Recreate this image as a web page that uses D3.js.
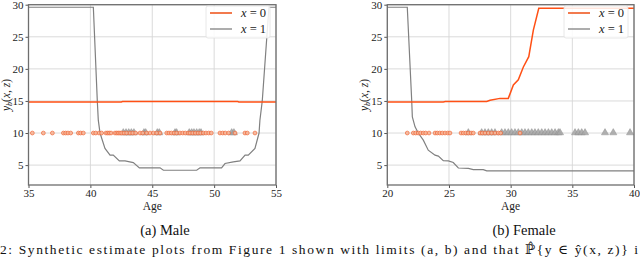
<!DOCTYPE html>
<html><head><meta charset="utf-8">
<script src="https://cdn.jsdelivr.net/npm/d3@7"></script>
<style>
body{margin:0;background:#fff}svg{display:block}
svg text{font-family:"Liberation Serif","DejaVu Serif",serif}
</style>
</head><body>
<svg id="c" width="640" height="257"></svg>
<script>
// ---------- data ----------
const maleLine0 = [[35,14.85],[42.5,14.85],[42.6,14.92],[51.9,14.92],[52.0,14.85],[55,14.85]];
const maleLine1 = [[35,29.6],[40.24,29.6],[40.56,15],[40.64,12],[40.78,10],[41.18,7.6],[41.59,6.55],[41.85,6.55],[42.34,5.66],[42.8,5.66],[43.47,5.4],[43.96,4.57],[45.63,4.57],[45.9,4.2],[48.59,4.2],[48.86,4.57],[50.6,4.57],[50.88,5.25],[51.55,5.5],[52.09,5.66],[52.5,6.55],[52.76,6.55],[53.3,7.6],[53.63,10],[53.7,12],[53.89,15],[54.43,29.6],[55,29.6]];
const maleAges0 = [35.31,36.2,36.93,37.82,38.0,38.19,38.41,39.03,39.21,39.43,40.24,40.43,40.7,40.91,41.26,41.4,41.53,41.67,41.99,42.13,42.26,42.39,42.53,42.72,42.93,43.2,43.42,43.66,44.01,44.23,44.55,44.82,45.09,45.36,45.63,46.17,46.35,46.54,46.76,46.97,47.24,47.46,47.67,47.89,48.05,48.27,48.48,48.7,48.91,49.13,49.34,49.56,49.77,50.47,50.69,50.9,51.17,51.69,52.49,52.68,53.3];
const maleAges1 = [42.66,42.88,43.1,43.31,43.52,44.33,44.47,45.41,45.57,46.84,46.97,47.99,48.19,48.37,48.59,48.8,48.94,51.42,51.6];

const femaleLine0 = [[20,14.85],[24.54,14.85],[24.7,14.92],[28.06,14.92],[28.33,15.1],[29.14,15.4],[29.81,15.4],[30.22,17.5],[30.62,18.3],[31.03,20.3],[31.47,21.9],[31.84,26.05],[32.28,29.44],[40,29.44]];
const femaleLine1 = [[20,29.6],[21.62,29.6],[21.98,15],[22.03,12.53],[22.25,10.97],[22.51,10],[22.92,8.89],[23.32,7.33],[23.87,6.55],[24.14,6.4],[24.54,5.7],[24.95,5.66],[25.35,5.4],[25.76,4.55],[26.57,4.5],[26.97,4.3],[27.78,4.3],[28.06,4.1],[40,4.1]];
const femaleAges0 = [21.62,22.11,22.3,22.51,22.7,22.92,23.11,23.38,23.87,24.05,24.25,24.46,24.68,24.9,25.08,25.98,26.16,26.36,26.57,26.79,26.97,27.52,27.7,27.92,28.19,28.46,28.73,29.0,29.19,30.76];
const femaleAges1 = [26.57,27.65,27.92,28.19,28.46,28.73,29.27,29.54,29.81,30.08,30.35,30.62,30.9,31.16,31.43,31.71,31.97,32.24,32.52,32.79,33.06,33.33,33.6,33.87,34.0,35.22,35.49,35.76,36.03,37.65,38.32,39.68];
const scatterLevel = 10;

const maleXTicks = [35,40,45,50,55];
const femaleXTicks = [20,25,30,35,40];
const yTicks = [5,10,15,20,25,30];
const legendLabels = ["0","1"];
const captions = ["(a) Male","(b) Female"];

// ---------- drawing ----------
const svg = d3.select("#c");
const C0 = "#ff5015", C1 = "#808080";

function panel(cfg){
  const x = d3.scaleLinear().domain(cfg.xDomain).range(cfg.xRange);
  const y = d3.scaleLinear().domain([1.9,30]).range([185,4.7]);
  const g = svg.append("g");
  const [x0,x1] = cfg.xRange, y0 = 4.7, y1 = 185;
  // grid
  g.selectAll(".gx").data(cfg.xTicks).join("line")
    .attr("x1",d=>x(d)).attr("x2",d=>x(d)).attr("y1",y0).attr("y2",y1)
    .attr("stroke","#d6d6d6").attr("stroke-width",0.9);
  g.selectAll(".gy").data(yTicks).join("line")
    .attr("x1",x0).attr("x2",x1).attr("y1",d=>y(d)).attr("y2",d=>y(d))
    .attr("stroke","#d6d6d6").attr("stroke-width",0.9);
  // axes
  const ax = g.append("g").attr("transform",`translate(0,${y1})`)
    .call(d3.axisBottom(x).tickValues(cfg.xTicks).tickSize(3).tickPadding(1));
  const ay = g.append("g").attr("transform",`translate(${x0},0)`)
    .call(d3.axisLeft(y).tickValues(yTicks).tickSize(3).tickPadding(2));
  [ax,ay].forEach(a=>{
    a.select(".domain").remove();
    a.selectAll("line").attr("stroke","#555");
    a.selectAll("text").attr("font-size",11).attr("fill","#222");
  });
  // lines
  const line = d3.line().x(d=>x(d[0])).y(d=>y(d[1]));
  g.append("path").datum(cfg.line1).attr("d",line).attr("fill","none")
    .attr("stroke",C1).attr("stroke-width",1.2);
  g.append("path").datum(cfg.line0).attr("d",line).attr("fill","none")
    .attr("stroke",C0).attr("stroke-width",1.5);
  // scatter
  const tri = d3.symbol().type(d3.symbolTriangle).size(22);
  g.selectAll(".tri").data(cfg.ages1).join("path")
    .attr("d",tri).attr("transform",d=>`translate(${x(d)},${y(scatterLevel)-0.3})`)
    .attr("fill","#a8a8a8").attr("stroke","#8a8a8a").attr("stroke-width",0.5).attr("opacity",0.9);
  g.selectAll(".cir").data(cfg.ages0).join("circle")
    .attr("cx",d=>x(d)).attr("cy",y(scatterLevel)).attr("r",1.9)
    .attr("fill","#f7b598").attr("stroke","#f06a3a").attr("stroke-width",0.8).attr("opacity",0.9);
  // frame
  g.append("rect").attr("x",x0).attr("y",y0).attr("width",x1-x0).attr("height",y1-y0)
    .attr("fill","none").attr("stroke","#6e6e6e").attr("stroke-width",1.3);
  // legend
  const lg = g.append("g").attr("transform",`translate(${x1-70},6)`);
  lg.append("rect").attr("width",64).attr("height",32).attr("rx",2)
    .attr("fill","rgba(255,255,255,0.85)").attr("stroke","#e2e2e2").attr("stroke-width",0.8);
  [[C0,2],[C1,1.3]].forEach((s,i)=>{
    const yy = 7 + i*16;
    lg.append("line").attr("x1",4).attr("x2",26).attr("y1",yy).attr("y2",yy)
      .attr("stroke",i? C1 : "#f27a4e").attr("stroke-width",s[1]);
    const t = lg.append("text").attr("x",35).attr("y",yy+4)
      .attr("font-size",12.5).attr("fill","#222");
    t.append("tspan").attr("font-style","italic").text("x");
    t.append("tspan").text(" = " + legendLabels[i]);
  });
  // axis labels
  g.append("text").attr("x",(x0+x1)/2).attr("y",209.5).attr("text-anchor","middle")
    .attr("font-size",11.5).attr("fill","#222").text("Age");
  const yl = g.append("text").attr("transform",`translate(${cfg.yLabelX},95) rotate(-90)`)
    .attr("text-anchor","middle").attr("font-size",11.5).attr("fill","#222");
  yl.append("tspan").attr("font-style","italic").text("y");
  yl.append("tspan").attr("font-style","italic").attr("font-size",8).attr("dy",2).text("b");
  yl.append("tspan").attr("dy",-2).text("(");
  yl.append("tspan").attr("font-style","italic").text("x");
  yl.append("tspan").text(", ");
  yl.append("tspan").attr("font-style","italic").text("z");
  yl.append("tspan").text(")");
  // caption
  svg.append("text").attr("x",cfg.capX).attr("y",235).attr("text-anchor","middle")
    .attr("font-size",14.5).attr("fill","#111").text(cfg.caption);
}

panel({xDomain:[35,55], xRange:[28.5,276], xTicks:maleXTicks, line0:maleLine0, line1:maleLine1,
       ages0:maleAges0, ages1:maleAges1, yLabelX:10, capX:165, caption:captions[0]});
panel({xDomain:[20,40], xRange:[387.3,634], xTicks:femaleXTicks, line0:femaleLine0, line1:femaleLine1,
       ages0:femaleAges0, ages1:femaleAges1, yLabelX:368, capX:524, caption:captions[1]});

// figure caption line (bottom edge)
svg.append("text").attr("x",0).attr("y",254).attr("font-size",13.5)
  .attr("fill","#111").attr("textLength",638).attr("lengthAdjust","spacing")
  .text("2:  Synthetic estimate plots from Figure 1 shown with limits (a, b) and that ℙ̂{y ∈ ŷ(x, z)} i");
</script>
</body></html>
